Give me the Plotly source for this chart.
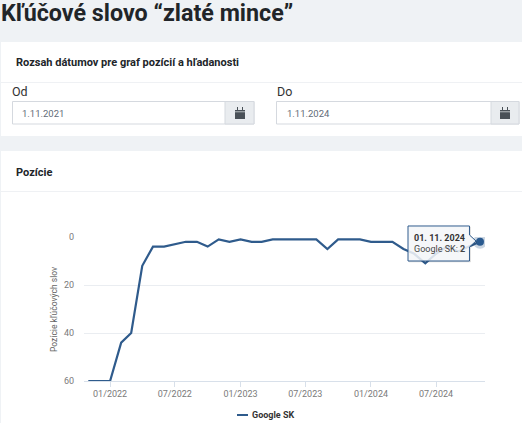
import plotly.graph_objects as go

months = ["2021-11-01", "2021-12-01", "2022-01-01", "2022-02-01", "2022-03-01", "2022-04-01",
          "2022-05-01", "2022-06-01", "2022-07-01", "2022-08-01", "2022-09-01", "2022-10-01",
          "2022-11-01", "2022-12-01", "2023-01-01", "2023-02-01", "2023-03-01", "2023-04-01",
          "2023-05-01", "2023-06-01", "2023-07-01", "2023-08-01", "2023-09-01", "2023-10-01",
          "2023-11-01", "2023-12-01", "2024-01-01", "2024-02-01", "2024-03-01", "2024-04-01",
          "2024-05-01", "2024-06-01", "2024-07-01", "2024-08-01", "2024-09-01", "2024-10-01",
          "2024-11-01"]
positions = [60, 60, 60, 44, 40, 12,
             4, 4, 3, 2, 2, 4,
             1, 2, 1, 2, 2, 1,
             1, 1, 1, 1, 5, 1,
             1, 1, 2, 2, 2, 5,
             7, 11, 7, 4, 6, 4,
             2]
tick_dates = ["2022-01-01", "2022-07-01", "2023-01-01", "2023-07-01", "2024-01-01", "2024-07-01"]
tick_labels = ["01/2022", "07/2022", "01/2023", "07/2023", "01/2024", "07/2024"]
y_ticks = [0, 20, 40, 60]

LEFT, RIGHT, TOP, BOTTOM = 84, 485, 237, 381
LINE = "#2f5b8c"


# page pixels -> paper coordinates
def px(x):
    return (x - LEFT) / (RIGHT - LEFT)


def py(y):
    return (BOTTOM - y) / (BOTTOM - TOP)


def box(x0, y0, x1, y1, fill, line=None, layer="below"):
    return dict(type="rect", xref="paper", yref="paper", x0=px(x0), x1=px(x1), y0=py(y0), y1=py(y1),
                fillcolor=fill, line=dict(color=line or fill, width=1 if line else 0), layer=layer)


def label(x, y, text, size, color="#333333", anchor="left", bold=False, angle=0):
    return dict(xref="paper", yref="paper", x=px(x), y=py(y), text="<b>%s</b>" % text if bold else text,
                showarrow=False, xanchor=anchor, yanchor="middle", textangle=angle,
                font=dict(size=size, color=color, family="Roboto"))


def calendar(x):
    icon = [box(x, 110, x + 10, 119, "#495057"),
            box(x + 2, 107, x + 3, 110, "#495057"),
            box(x + 7, 107, x + 8, 110, "#495057"),
            box(x, 111.5, x + 10, 112.2, "#e9ecef")]
    return icon


def tooltip_path(dx=0, dy=0):
    tip = [(408, 226), (469.5, 226), (469.5, 235), (476, 241), (469.5, 247), (469.5, 261), (408, 261)]
    return "M " + " L ".join("%.4f,%.4f" % (px(x + dx), py(y + dy)) for x, y in tip) + " Z"


shapes = [
    # cards
    box(1, 42, 523, 136, "#ffffff"),
    box(1, 151, 523, 424, "#ffffff"),
    box(1, 82, 523, 83, "#eff1f4"),
    box(1, 191, 523, 192, "#eff1f4"),
    # date inputs
    box(12.5, 101.5, 254, 124, "#ffffff", "#d5d9df"),
    box(225, 101.5, 254, 124, "#e9ecef", "#d5d9df"),
    box(276.5, 101.5, 519, 124, "#ffffff", "#d5d9df"),
    box(491, 101.5, 519, 124, "#e9ecef", "#d5d9df"),
]
shapes += calendar(235) + calendar(500)
# legend line
shapes.append(dict(type="line", xref="paper", yref="paper", x0=px(237), x1=px(248), y0=py(415), y1=py(415),
                   line=dict(color=LINE, width=2)))
# tooltip with a soft shadow
shapes.append(dict(type="path", xref="paper", yref="paper", path=tooltip_path(1, 1), layer="above",
                   fillcolor="rgba(0,0,0,0.08)", line=dict(color="rgba(0,0,0,0.08)", width=1)))
shapes.append(dict(type="path", xref="paper", yref="paper", path=tooltip_path(), layer="above",
                   fillcolor="rgba(247,249,251,0.85)", line=dict(color=LINE, width=1)))

annotations = [
    label(-1, 13, "Kľúčové slovo “zlaté mince”", 23.3, "#212529", bold=True),
    label(14, 63, "Rozsah dátumov pre graf pozícií a hľadanosti", 11, "#212529", bold=True),
    label(10, 92, "Od", 12.5),
    label(20, 113, "1.11.2021", 9.5, "#5f6b78"),
    label(275, 92, "Do", 12.5),
    label(285, 113, "1.11.2024", 9.5, "#5f6b78"),
    label(14, 172, "Pozície", 11, "#212529", bold=True),
    label(54, 310, "Pozície kľúčových slov", 8.5, "#666666", anchor="center", angle=-90),
    label(250, 415, "Google SK", 9, "#333333", bold=True),
    label(412, 238, "01. 11. 2024", 9, "#333333", bold=True),
    label(412, 249, "Google SK: <b>2</b>", 9, "#444444"),
]

fig = go.Figure()
fig.add_trace(go.Scatter(x=months, y=positions, mode="lines", name="Google SK",
                         line=dict(color=LINE, width=2.2), showlegend=False, hoverinfo="skip"))
# hovered point with halo
fig.add_trace(go.Scatter(x=months[-1:], y=positions[-1:], mode="markers", showlegend=False, hoverinfo="skip",
                         marker=dict(size=14, color="rgba(47,91,140,0.25)", line=dict(width=0))))
fig.add_trace(go.Scatter(x=months[-1:], y=positions[-1:], mode="markers", showlegend=False, hoverinfo="skip",
                         marker=dict(size=8, color="#2a5a8f", line=dict(width=0))))

fig.update_xaxes(range=["2021-10-20", "2024-11-15"], tickvals=tick_dates, ticktext=tick_labels,
                 showgrid=False, zeroline=False, showline=True, linecolor="#d8e0ea", linewidth=1,
                 ticks="outside", ticklen=5, tickcolor="#d8e0ea", ticklabelstandoff=-1,
                 tickfont=dict(size=9, color="#7a7a7a"))
fig.update_yaxes(range=[60, 0], tickvals=y_ticks, showgrid=True, gridcolor="#eaedf1", gridwidth=1,
                 zeroline=False, showline=False, ticks="", ticklabelstandoff=9,
                 tickfont=dict(size=9, color="#7a7a7a"))
fig.update_layout(width=522, height=423, autosize=False, showlegend=False,
                  margin=dict(l=LEFT, r=522 - RIGHT, t=TOP, b=423 - BOTTOM),
                  paper_bgcolor="#eff2f5", plot_bgcolor="rgba(0,0,0,0)",
                  font=dict(family="Roboto"), shapes=shapes, annotations=annotations)

# page fills the window, no default body margin
fig.write_html("out.html", config=dict(displayModeBar=False),
               post_script="document.body.style.margin='0';document.body.style.overflow='hidden';")
